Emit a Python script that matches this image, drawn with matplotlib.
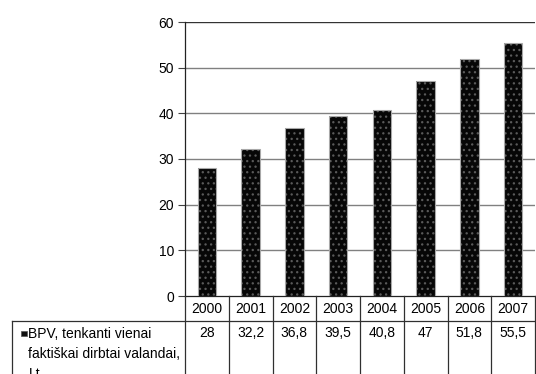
import matplotlib
matplotlib.use("Agg")
import matplotlib.pyplot as plt
from matplotlib.patches import Rectangle

years = ["2000", "2001", "2002", "2003", "2004", "2005", "2006", "2007"]
values = [28, 32.2, 36.8, 39.5, 40.8, 47, 51.8, 55.5]
value_labels = ["28", "32,2", "36,8", "39,5", "40,8", "47", "51,8", "55,5"]
series_name = "BPV, tenkanti vienai\nfaktiškai dirbtai valandai,\nLt"
yticks = [0, 10, 20, 30, 40, 50, 60]

plt.rcParams['font.family'] = ['Liberation Sans', 'DejaVu Sans']
plt.rcParams['hatch.linewidth'] = 0.9

W, H = 536, 374
FS = 10
fig = plt.figure(figsize=(W / 100, H / 100), dpi=100)

x0, x1 = 185, 535
y0, ytop = 296, 22
ax = fig.add_axes([x0 / W, (H - y0) / H, (x1 - x0) / W, (y0 - ytop) / H])

n = len(years)
xs = list(range(n))
ax.bar(xs, values, width=0.42, color='#070707', edgecolor='#5a5a5a',
       hatch='...', linewidth=0, zorder=3)
ax.bar(xs, values, width=0.42, fill=False, edgecolor='#a8a8a8',
       linewidth=0.8, zorder=4)
ax.set_xlim(-0.5, n - 0.5)
ax.set_ylim(0, 60)
ax.set_yticks(yticks)
ax.set_yticklabels([str(t) for t in yticks], fontsize=FS)
ax.tick_params(axis='y', length=5, width=0.8, color='#404040', pad=3)
ax.set_xticks([])
for t in yticks[1:-1]:
    ax.axhline(t, color='#808080', lw=1.0, zorder=1)
ax.axhline(60, color='#333333', lw=1.0, zorder=1)
for s in ['top', 'right']:
    ax.spines[s].set_visible(False)
ax.spines['left'].set_color('#222222')
ax.spines['bottom'].set_color('#222222')
ax.spines['left'].set_linewidth(0.9)
ax.spines['bottom'].set_linewidth(0.9)

# data table (pixel coordinates -> figure fraction)
def fx(px):
    return px / W

def fy(py):
    return (H - py) / H

row1_bot = 320.5
lc = '#303030'
cell_w = (x1 - x0) / n
fig.add_artist(plt.Line2D([fx(12), fx(540)], [fy(row1_bot), fy(row1_bot)], color=lc, lw=0.9))
fig.add_artist(plt.Line2D([fx(12), fx(12)], [fy(row1_bot), fy(380)], color=lc, lw=0.9))
fig.add_artist(plt.Line2D([fx(x0), fx(x0)], [fy(y0), fy(380)], color=lc, lw=0.9))
for i in range(1, n + 1):
    xp = x0 + i * cell_w
    fig.add_artist(plt.Line2D([fx(xp), fx(xp)], [fy(y0), fy(380)], color=lc, lw=0.9))
for i in range(n):
    xc = x0 + (i + 0.5) * cell_w
    fig.text(fx(xc), fy(313), years[i], ha='center', va='baseline', fontsize=FS)
    fig.text(fx(xc), fy(337), value_labels[i], ha='center', va='baseline', fontsize=FS)

fig.add_artist(Rectangle((fx(21), fy(336)), 5.5 / W, 5.5 / H, transform=fig.transFigure,
                         facecolor='#111111', edgecolor='#555555', lw=0.5))
for k, line in enumerate(series_name.split('\n')):
    fig.text(fx(28.5), fy(338 + 20 * k), line, ha='left', va='baseline', fontsize=FS)

fig.savefig('out.png', dpi=100)
